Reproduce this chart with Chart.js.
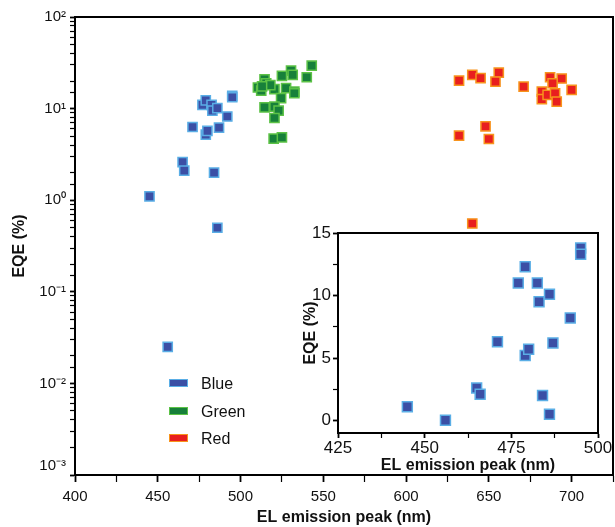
<!DOCTYPE html>
<html>
<head>
<meta charset="utf-8">
<script src="https://cdn.jsdelivr.net/npm/chart.js@4.4.0/dist/chart.umd.min.js"></script>
<style>
  body { margin: 0; background: #fff; }
  #wrap { position: relative; width: 615px; height: 527px; }
  #mainChart { position: absolute; left: 0; top: 0; }
  #insetChart { position: absolute; left: 290px; top: 215px; }
  .leg { position: absolute; left: 169px; font: 16px "Liberation Sans", Arial, sans-serif; color: #111; }
  .leg span { display: inline-block; width: 17px; height: 6px; margin-right: 13px; vertical-align: middle; position: relative; top: -2px; }
</style>
</head>
<body>
<div id="wrap">
  <canvas id="mainChart" width="615" height="527"></canvas>
  <canvas id="insetChart" width="325" height="260"></canvas>
  <div class="leg" style="top:375px"><span style="background:#3b4fa5;border:1.5px solid #5aaee6"></span>Blue</div>
  <div class="leg" style="top:403px"><span style="background:#17803a;border:1.5px solid #5cc246"></span>Green</div>
  <div class="leg" style="top:430px"><span style="background:#e81f1f;border:1.5px solid #f7941d"></span>Red</div>
</div>
<script>
// Datos
const blueX = [445, 456, 465, 466, 471, 477, 479, 479, 480, 482.5, 483, 484, 486, 486, 487, 492, 495, 495];
const blueY = [1.1, 0.025, 2.6, 2.1, 6.3, 11.0, 12.3, 5.2, 5.7, 11.0, 9.5, 2.0, 10.1, 0.5, 6.2, 8.2, 13.8, 13.3];

const greenX = [543, 540, 530.5, 531.5, 525, 514.5, 515.5, 510.5, 512.5, 520.5, 527.5, 532.5, 532.5, 524.5, 514.5, 520.5, 523, 520.5, 520, 525, 518, 513];
const greenY = [29.4, 22.0, 26.0, 23.3, 22.8, 20.9, 18.9, 17.0, 15.7, 16.3, 16.7, 15.3, 14.7, 13.0, 10.3, 10.5, 9.5, 7.9, 4.7, 4.85, 18, 17.5];

const redX = [632, 640, 645, 656, 654, 671, 687, 694, 688.5, 682, 682, 685.5, 690, 691, 700, 632, 648, 650, 640];
const redY = [20.2, 23.3, 21.5, 24.7, 19.7, 17.4, 22.0, 21.3, 18.9, 15.3, 12.7, 14.1, 14.7, 11.9, 16.0, 5.06, 6.4, 4.66, 0.557];

const xTicksMain = [400, 450, 500, 550, 600, 650, 700];
const xTicksInset = [425, 450, 475, 500];
const yTicksInset = [0, 5, 10, 15];

const FONT = '"Liberation Sans", Arial, sans-serif';
const toPts = (xs, ys) => xs.map((x, i) => ({ x: x, y: ys[i] }));

const sup = { '-': '\u207B', '0': '\u2070', '1': '\u00B9', '2': '\u00B2', '3': '\u00B3' };
const isPow10 = v => Math.abs(Math.log10(v) - Math.round(Math.log10(v))) < 1e-6;
const powLabel = v => '10' + String(Math.round(Math.log10(v))).split('').map(c => sup[c]).join('');
const near = (arr, v) => arr.some(a => Math.abs(a - v) < 1e-6);

// marco negro alrededor del área del gráfico
const frame = {
  id: 'frame',
  afterDraw(chart) {
    const a = chart.chartArea, c = chart.ctx;
    c.save();
    c.strokeStyle = '#000';
    c.lineWidth = 2;
    c.strokeRect(a.left, a.top, a.right - a.left, a.bottom - a.top);
    c.restore();
  }
};

const ds = (label, xs, ys, fill, edge, r) => ({
  label: label,
  data: toPts(xs, ys),
  pointStyle: 'rect',
  pointRadius: r,
  pointBackgroundColor: fill,
  pointBorderColor: edge,
  pointBorderWidth: 1.5,
  showLine: false
});

new Chart(document.getElementById('mainChart').getContext('2d'), {
  type: 'scatter',
  data: {
    datasets: [
      ds('Blue', blueX, blueY, '#3b4fa5', '#5aaee6', 6.5),
      ds('Green', greenX, greenY, '#17803a', '#5cc246', 6.5),
      ds('Red', redX, redY, '#e81f1f', '#f7941d', 6.5)
    ]
  },
  options: {
    responsive: false,
    animation: false,
    layout: { autoPadding: false, padding: { left: 0, right: 2, top: 17, bottom: 0 } },
    plugins: { legend: { display: false }, tooltip: { enabled: false } },
    scales: {
      x: {
        type: 'linear',
        min: 400,
        max: 725,
        afterFit: s => { s.height = 52; s.paddingLeft = 0; s.paddingRight = 0; },
        border: { color: '#000', width: 2 },
        grid: {
          drawOnChartArea: false,
          tickLength: 7,
          tickColor: '#000',
          tickWidth: ctx => (ctx.tick && near(xTicksMain, ctx.tick.value)) ? 1.8 : 1.2
        },
        ticks: {
          stepSize: 25,
          autoSkip: false,
          maxRotation: 0,
          padding: 6,
          color: '#111',
          font: { family: FONT, size: 15 },
          callback: v => near(xTicksMain, v) ? String(v) : ''
        },
        title: {
          display: true,
          text: 'EL emission peak (nm)',
          color: '#111',
          font: { family: FONT, size: 16, weight: 'bold' },
          padding: { top: 0, bottom: 0 }
        }
      },
      y: {
        type: 'logarithmic',
        min: 0.001,
        max: 100,
        afterFit: s => { s.width = 75; },
        border: { color: '#000', width: 2 },
        grid: {
          drawOnChartArea: false,
          tickLength: 5,
          tickColor: '#000',
          tickWidth: ctx => (ctx.tick && isPow10(ctx.tick.value)) ? 1.8 : 1.2
        },
        ticks: {
          autoSkip: false,
          padding: 4,
          color: '#111',
          font: { family: FONT, size: 15 },
          // la etiqueta inferior va algo por encima del eje, como en el original
          callback: v => !isPow10(v) ? '' : (v < 0.0015 ? [powLabel(v), ''] : powLabel(v))
        },
        title: {
          display: true,
          text: 'EQE (%)',
          color: '#111',
          font: { family: FONT, size: 16, weight: 'bold' },
          padding: { top: 10, bottom: 0 }
        }
      }
    }
  },
  plugins: [frame]
});

// gráfico insertado (escala lineal, solo azules)
new Chart(document.getElementById('insetChart').getContext('2d'), {
  type: 'scatter',
  data: {
    datasets: [ds('Blue', blueX, blueY, '#3b4fa5', '#5aaee6', 7)]
  },
  options: {
    responsive: false,
    animation: false,
    layout: { autoPadding: false, padding: { left: 0, right: 17, top: 18, bottom: 0 } },
    plugins: { legend: { display: false }, tooltip: { enabled: false } },
    scales: {
      x: {
        type: 'linear',
        min: 425,
        max: 500,
        afterFit: s => { s.height = 42; s.paddingLeft = 0; s.paddingRight = 0; },
        border: { color: '#000', width: 2 },
        grid: {
          drawOnChartArea: false,
          tickLength: 5,
          tickColor: '#000',
          tickWidth: ctx => (ctx.tick && near(xTicksInset, ctx.tick.value)) ? 1.8 : 1.2
        },
        ticks: {
          stepSize: 12.5,
          autoSkip: false,
          maxRotation: 0,
          padding: 0,
          color: '#111',
          font: { family: FONT, size: 17 },
          callback: v => near(xTicksInset, v) ? String(v) : ''
        },
        title: {
          display: true,
          text: 'EL emission peak (nm)',
          color: '#111',
          font: { family: FONT, size: 16, weight: 'bold' },
          padding: { top: -6, bottom: 0 }
        }
      },
      y: {
        type: 'linear',
        min: -1,
        max: 15,
        afterFit: s => { s.width = 48; },
        border: { color: '#000', width: 2 },
        grid: {
          drawOnChartArea: false,
          tickLength: 5,
          tickColor: '#000',
          tickWidth: ctx => (ctx.tick && near(yTicksInset, ctx.tick.value)) ? 1.8 : 1.2
        },
        ticks: {
          stepSize: 2.5,
          includeBounds: false,
          autoSkip: false,
          padding: 2,
          color: '#111',
          font: { family: FONT, size: 17 },
          callback: v => near(yTicksInset, v) ? String(v) : ''
        },
        title: {
          display: true,
          text: 'EQE (%)',
          color: '#111',
          font: { family: FONT, size: 16, weight: 'bold' },
          padding: { top: 11, bottom: 0 }
        }
      }
    }
  },
  plugins: [frame]
});
</script>
</body>
</html>
